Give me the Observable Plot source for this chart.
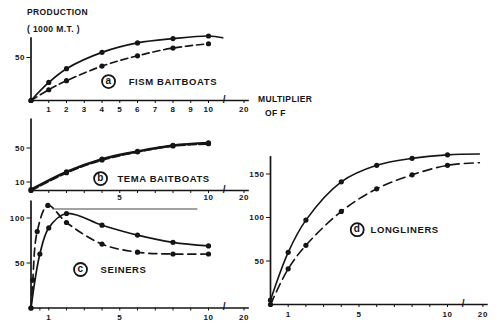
<!DOCTYPE html>
<html><head><meta charset="utf-8">
<script src="https://cdn.jsdelivr.net/npm/d3@7"></script>
<script src="https://cdn.jsdelivr.net/npm/@observablehq/plot@0.6"></script>
<style>
body{margin:0;background:#fff}
#chart{position:relative;width:500px;height:335px;overflow:hidden;background:#fff;font-family:"Liberation Sans",Arial,sans-serif;font-weight:bold;color:#151515}
#chart svg{position:absolute}
.lbl{position:absolute;font-size:8.5px;letter-spacing:0.4px;white-space:nowrap;line-height:1}
</style></head>
<body><div id="chart"></div>
<script>
// ---------- data (multiplier of F, production in 1000 M.T.) ----------
// Panel a: FISM baitboats
const aSolidF = [0, 1, 2, 4, 6, 8, 10, 14];
const aSolidV = [0, 21, 37, 56, 67, 72, 75, 73];
const aDashF  = [0, 1, 2, 4, 6, 8, 10];
const aDashV  = [0, 12.5, 23, 40, 52, 61, 66];
// Panel b: TEMA baitboats
const bSolidF = [0, 2, 4, 6, 8, 10];
const bSolidV = [1, 22, 37, 46, 53, 56];
const bDashF  = [0, 2, 4, 6, 8, 10];
const bDashV  = [0, 21, 36, 45.5, 52.5, 55];
// Panel c: seiners
const cSolidF = [0, 0.5, 1, 2, 4, 6, 8, 10];
const cSolidV = [0, 60, 89, 105, 92, 81, 73, 69];
const cDashF  = [0, 0.1, 0.35, 0.95, 2, 4, 6, 8, 10];
const cDashV  = [0, 31, 85, 114, 95, 71, 62, 60, 60];
const cRefValue = 110, cRefFrom = 1.25, cRefTo = 9.4;
// Panel d: longliners
const dSolidF = [0, 1, 2, 4, 6, 8, 10, 19];
const dSolidV = [5, 60, 97, 141, 160, 168, 172, 173];
const dDashF  = [0, 1, 2, 4, 6, 8, 10, 19];
const dDashV  = [0, 41, 68, 107, 133, 149, 160, 163];
// tick labels
const aXLabels = [1, 2, 3, 4, 5, 6, 7, 8, 9, 10, 20];
const bXLabels = [5, 10, 20];
const cXLabels = [1, 5, 10, 20];
const dXLabels = [1, 5, 10, 20];
const aXTicks = [1, 2, 3, 4, 5, 6, 7, 8, 9, 10, 20];
const bXTicks = [1, 2, 3, 4, 5, 6, 7, 8, 9, 10, 20];
const cXTicks = [0.5, 1, 2, 3, 4, 5, 6, 7, 8, 9, 10, 20];
const dXTicks = [1, 2, 3, 4, 5, 6, 7, 8, 9, 10, 20];
const aYTicks = [50], bYTicks = [10, 50], cYTicks = [50, 100], dYTicks = [50, 100, 150];
const panelNames = ["FISM BAITBOATS", "TEMA BAITBOATS", "SEINERS", "LONGLINERS"];
const panelLetters = ["a", "b", "c", "d"];
const BREAK_F = 14.5;

// ---------- layout ----------
const ink = "#151515";
const font = '"Liberation Sans", Arial, sans-serif';
const pos = f => f <= 10 ? f : 10 + (f - 10) * 0.2;   // broken axis: 10..20 compressed
const X_MAX = 12.3;
const chart = document.getElementById("chart");

function series(F, V) { return F.map((f, i) => ({f, x: pos(f), y: V[i]})); }

function panel(cfg) {
  const {left, top, width, height, x0, unit, y0, k, yAxisTop, xTicks, xLabels, yTicks,
         lines, lab, tickPadding, extra = []} = cfg;
  const marginLeft = x0 - left;
  const marginRight = left + width - (x0 + X_MAX * unit);
  const marginTop = 3;
  const marginBottom = top + height - y0;
  const yMax = (y0 - top - marginTop) / k;
  const labelMap = new Map(xLabels.map(f => [pos(f), String(f)]));
  const marks = [
    Plot.ruleY([0], {stroke: ink, strokeWidth: 1.7}),
    Plot.ruleX([0], {y1: 0, y2: yAxisTop, stroke: ink, strokeWidth: 1.7}),
    ...extra
  ];
  for (const s of lines) {
    marks.push(Plot.line(s.data, {x: "x", y: "y", curve: "catmull-rom", stroke: ink,
      strokeWidth: s.width, strokeDasharray: s.dash}));
    marks.push(Plot.dot(s.data.filter(d => d.f <= 10), {x: "x", y: "y", r: 2.6, fill: ink}));
  }
  if (cfg.brk) marks.push(Plot.text([{x: pos(BREAK_F), y: 0}], {x: "x", y: "y", text: () => "/",
      fontSize: 10, fontWeight: "bold", fill: ink, dy: -1}));
  marks.push(
    Plot.dot([lab], {x: "x", y: "y", r: 6.5, stroke: ink, strokeWidth: 1.8, fill: "white"}),
    Plot.text([lab], {x: "x", y: "y", text: "letter", fontSize: 10, fontWeight: "bold", fill: ink, dy: -0.5}),
    Plot.text([lab], {x: "tx", y: "y", text: "name", textAnchor: "start", fontSize: 9.5, fontWeight: "bold", fill: ink})
  );
  const svg = Plot.plot({
    width, height, marginLeft, marginRight, marginTop, marginBottom,
    x: {domain: [0, X_MAX], ticks: xTicks.map(pos), tickFormat: p => labelMap.get(p) ?? "",
        tickSize: 3, tickPadding, label: null},
    y: {domain: [0, yMax], ticks: yTicks, tickSize: 4, tickPadding: 2, label: null},
    style: {background: "transparent", overflow: "visible", fontFamily: font, fontWeight: "bold",
            fontSize: "8px", color: ink, letterSpacing: "0.6px"},
    marks
  });
  svg.style.left = left + "px";
  svg.style.top = top + "px";
  chart.appendChild(svg);
}

const U = 17.75;
panel({left: 0, top: 0, width: 262, height: 120, x0: 30.5, unit: U, y0: 100, k: 0.86, yAxisTop: 73,
  xTicks: aXTicks, xLabels: aXLabels, yTicks: aYTicks, tickPadding: 3, brk: true,
  lines: [{data: series(aSolidF, aSolidV), width: 1.7}, {data: series(aDashF, aDashV), width: 1.7, dash: "7,4"}],
  lab: {x: 4.37, tx: 5.5, y: 22, letter: panelLetters[0], name: panelNames[0]}});

panel({left: 0, top: 112, width: 262, height: 95, x0: 30.5, unit: U, y0: 190, k: 0.85, yAxisTop: 84,
  xTicks: bXTicks, xLabels: bXLabels, yTicks: bYTicks, tickPadding: 1, brk: true,
  lines: [{data: series(bSolidF, bSolidV), width: 2.4}, {data: series(bDashF, bDashV), width: 2.2, dash: "8,3"}],
  lab: {x: 3.92, tx: 4.87, y: 14, letter: panelLetters[1], name: panelNames[1]}});

panel({left: 0, top: 196, width: 262, height: 139, x0: 30.5, unit: U, y0: 307.5, k: 0.9, yAxisTop: 119,
  xTicks: cXTicks, xLabels: cXLabels, yTicks: cYTicks, tickPadding: 3, brk: true,
  extra: [Plot.ruleY([cRefValue], {x1: cRefFrom, x2: cRefTo, stroke: ink, strokeWidth: 0.8})],
  lines: [{data: series(cSolidF, cSolidV), width: 1.7}, {data: series(cDashF, cDashV), width: 1.7, dash: "8,5"}],
  lab: {x: 2.79, tx: 3.92, y: 42.8, letter: panelLetters[2], name: panelNames[2]}});

panel({left: 238, top: 142, width: 262, height: 193, x0: 270, unit: 17.7, y0: 304, k: 0.87, yAxisTop: 170,
  xTicks: dXTicks, xLabels: dXLabels, yTicks: dYTicks, tickPadding: 4, brk: true,
  lines: [{data: series(dSolidF, dSolidV), width: 1.6}, {data: series(dDashF, dDashV), width: 1.6, dash: "9,5"}],
  lab: {x: 4.9, tx: 5.65, y: 86, letter: panelLetters[3], name: panelNames[3]}});

// axis titles
const titles = [
  {text: "PRODUCTION", left: 27, top: 8},
  {text: "( 1000 M.T. )", left: 27, top: 25},
  {text: "MULTIPLIER", left: 258, top: 95},
  {text: "OF  F", left: 265, top: 109}
];
for (const t of titles) {
  const el = document.createElement("div");
  el.className = "lbl";
  el.textContent = t.text;
  el.style.left = t.left + "px";
  el.style.top = t.top + "px";
  chart.appendChild(el);
}
</script>
</body></html>
